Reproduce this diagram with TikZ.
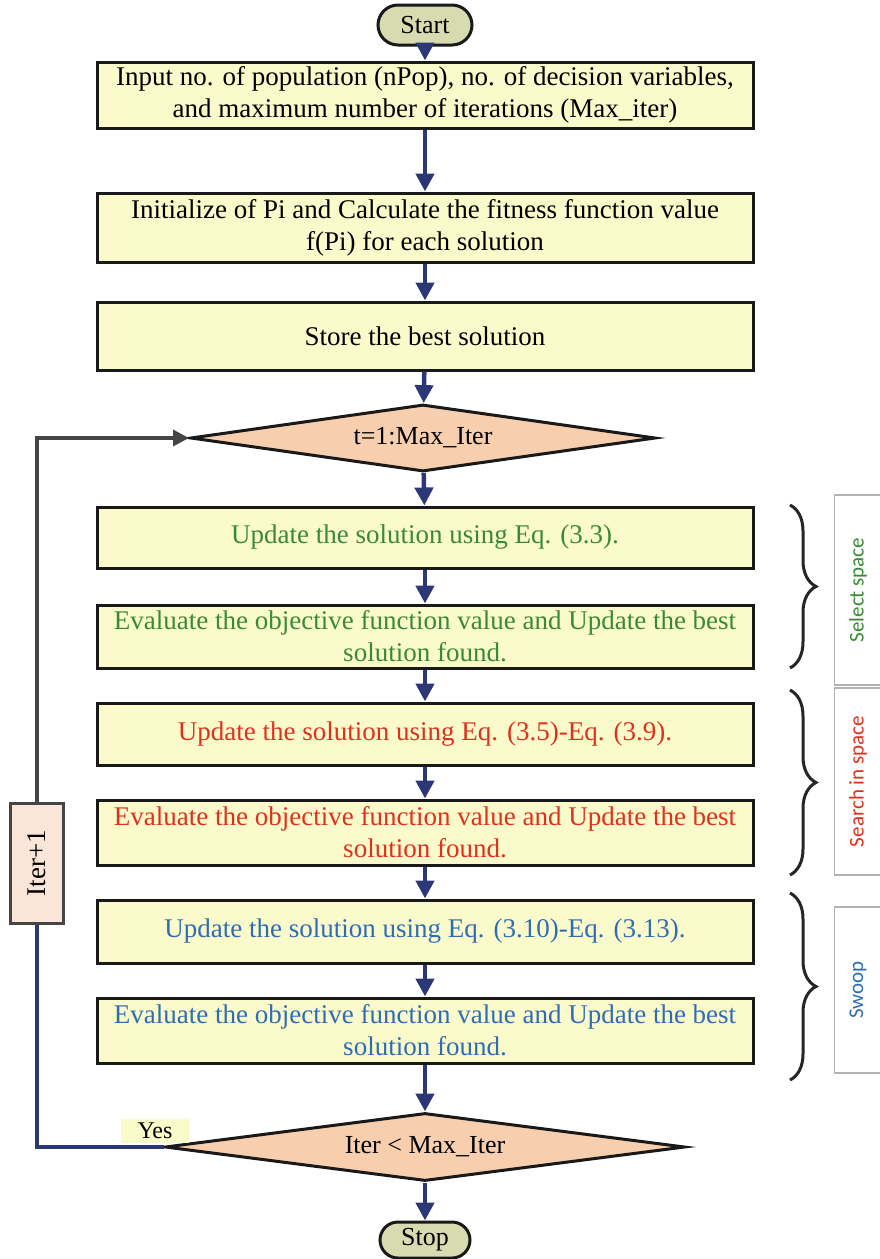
\documentclass[tikz,border=0pt]{standalone}
\usepackage{fontspec}
\setmainfont{Liberation Serif}
\newfontfamily\lblfont{Carlito}
\usetikzlibrary{shapes.geometric,shapes.misc,arrows.meta,decorations.pathreplacing}
\definecolor{boxfill}{HTML}{FBFACB}
\definecolor{dfill}{HTML}{F7CFAE}
\definecolor{tfill}{HTML}{D7DBAF}
\definecolor{arrowc}{HTML}{2B3875}
\definecolor{greent}{HTML}{3A8A35}
\definecolor{redt}{HTML}{E0301E}
\definecolor{bluet}{HTML}{2E6DB5}
\definecolor{iterfill}{HTML}{FBE4D8}
\definecolor{loopgray}{HTML}{454545}
\tikzset{
  procbox/.style={draw=black!90, line width=3pt, fill=boxfill, minimum width=656pt, align=center, inner sep=2pt,
     font=\fontsize{27}{32}\selectfont},
  termbox/.style={draw=black!90, line width=3pt, fill=tfill, rounded rectangle, inner sep=0pt,
     font=\fontsize{26}{28}\selectfont},
  decbox/.style={draw=black!90, line width=3pt, fill=dfill, diamond, aspect=7, inner sep=0pt,
     font=\fontsize{26}{28}\selectfont},
  flowarrow/.style={draw=arrowc, line width=4.5pt, -{Triangle[width=18pt,length=18pt]}},
  lblbox/.style={draw=black!30, line width=1.2pt, fill=white, minimum height=47pt, inner sep=0pt,
     font=\lblfont\fontsize{21}{23}\selectfont, rotate=90},
  bracestyle/.style={draw=black!85, line width=3pt, decorate, decoration={brace, amplitude=26pt}},
}
\begin{document}
\begin{tikzpicture}[x=1pt,y=-1pt]
\useasboundingbox (0,0) rectangle (880,1259);
\node[termbox, minimum width=94pt, minimum height=40pt] (start) at (425,25) {Start};
\node[procbox, minimum height=66pt] (b1) at (425,95) {Input no. of population (nPop), no. of decision variables,\\and maximum number of iterations (Max\_iter)};
\node[procbox, minimum height=69pt] (b2) at (425,227.5) {Initialize of Pi and Calculate the fitness function value\\f(Pi) for each solution};
\node[procbox, minimum height=68pt] (b3) at (425,336) {Store the best solution};
\node[decbox, minimum width=465pt, minimum height=67pt] (d1) at (423,438) {t=1:Max\_Iter};
\node[procbox, minimum height=61pt, text=greent] (b4) at (425,537.5) {Update the solution using Eq. (3.3).};
\node[procbox, minimum height=63pt, text=greent] (b5) at (425,636.5) {Evaluate the objective function value and Update the best\\solution found.};
\node[procbox, minimum height=62pt, text=redt] (b6) at (425,734) {Update the solution using Eq. (3.5)-Eq. (3.9).};
\node[procbox, minimum height=65pt, text=redt] (b7) at (425,832.5) {Evaluate the objective function value and Update the best\\solution found.};
\node[procbox, minimum height=63pt, text=bluet] (b8) at (425,931.5) {Update the solution using Eq. (3.10)-Eq. (3.13).};
\node[procbox, minimum height=65pt, text=bluet] (b9) at (425,1030.5) {Evaluate the objective function value and Update the best\\solution found.};
\node[decbox, minimum width=520pt, minimum height=68pt] (d2) at (425,1147) {Iter < Max\_Iter};
\node[termbox, minimum width=90pt, minimum height=36pt] (stop) at (425,1240) {Stop};
\node[draw=loopgray, line width=3pt, fill=iterfill, minimum width=120pt, minimum height=53pt, rotate=90,
      font=\fontsize{27}{29}\selectfont, inner sep=0pt] (iter) at (37,863) {Iter+1};
\node[fill=boxfill, inner sep=1pt, minimum width=68pt, minimum height=24pt, font=\fontsize{24}{26}\selectfont] (yes) at (155,1131) {Yes};
% flow arrows
\draw[flowarrow] (start) -- (b1);
\draw[flowarrow] (b1) -- (b2);
\draw[flowarrow] (b2) -- (b3);
\draw[flowarrow] (b3) -- (d1);
\draw[flowarrow] (d1) -- (b4);
\draw[flowarrow] (b4) -- (b5);
\draw[flowarrow] (b5) -- (b6);
\draw[flowarrow] (b6) -- (b7);
\draw[flowarrow] (b7) -- (b8);
\draw[flowarrow] (b8) -- (b9);
\draw[flowarrow] (b9) -- (d2);
\draw[flowarrow] (d2) -- (stop);
% loop
\draw[arrowc, line width=3.5pt] (d2.west) -| (iter.west);
\draw[loopgray, line width=3.5pt, -{Triangle[width=16pt,length=16pt]}] (iter.east) |- (d1.west);
% braces
\draw[bracestyle] (790,505) -- (790,668);
\draw[bracestyle] (790,690) -- (790,875);
\draw[bracestyle] (790,893) -- (790,1080);
% labels
\node[lblbox, minimum width=190pt, text=greent] (l1) at (858,590) {Select space};
\node[lblbox, minimum width=187pt, text=redt] (l2) at (858,781.5) {Search in space};
\node[lblbox, minimum width=166pt, text=bluet] (l3) at (858,990) {Swoop};
\end{tikzpicture}
\end{document}
